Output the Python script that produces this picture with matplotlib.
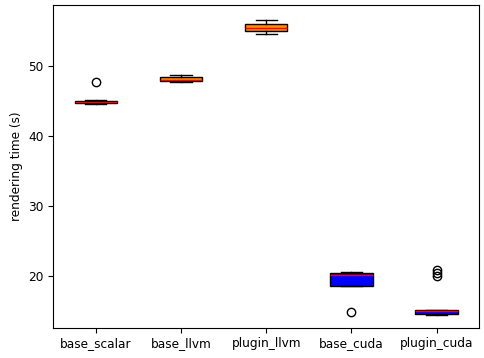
import matplotlib
matplotlib.use("Agg")
import matplotlib.pyplot as plt

plt.rcParams["font.size"] = 8.7

labels = ["base_scalar", "base_llvm", "plugin_llvm", "base_cuda", "plugin_cuda"]
med = [44.85, 48.0, 55.3, 20.05, 15.0]
q1 = [44.7, 47.75, 54.9, 18.5, 14.55]
q3 = [45.0, 48.35, 55.9, 20.35, 15.1]
whislo = [44.5, 47.6, 54.5, 18.5, 14.35]
whishi = [45.1, 48.6, 56.5, 20.6, 15.15]
fliers = [[47.6], [], [], [14.8], [20.0, 20.4, 20.8]]
colors = ["darkorange", "darkorange", "darkorange", "blue", "blue"]

stats = []
for i, lab in enumerate(labels):
    stats.append(dict(label=lab, med=med[i], q1=q1[i], q3=q3[i],
                      whislo=whislo[i], whishi=whishi[i], fliers=fliers[i]))

fig, ax = plt.subplots(figsize=(4.84, 3.58), dpi=100)
bp = ax.bxp(stats, patch_artist=True, medianprops=dict(color="red"))
for patch, c in zip(bp["boxes"], colors):
    patch.set_facecolor(c)

ax.set_ylabel("rendering time (s)")
ax.set_ylim(12.6, 58.6)
fig.subplots_adjust(left=0.11, right=0.99, top=0.985, bottom=0.085)
fig.savefig("out.png")
